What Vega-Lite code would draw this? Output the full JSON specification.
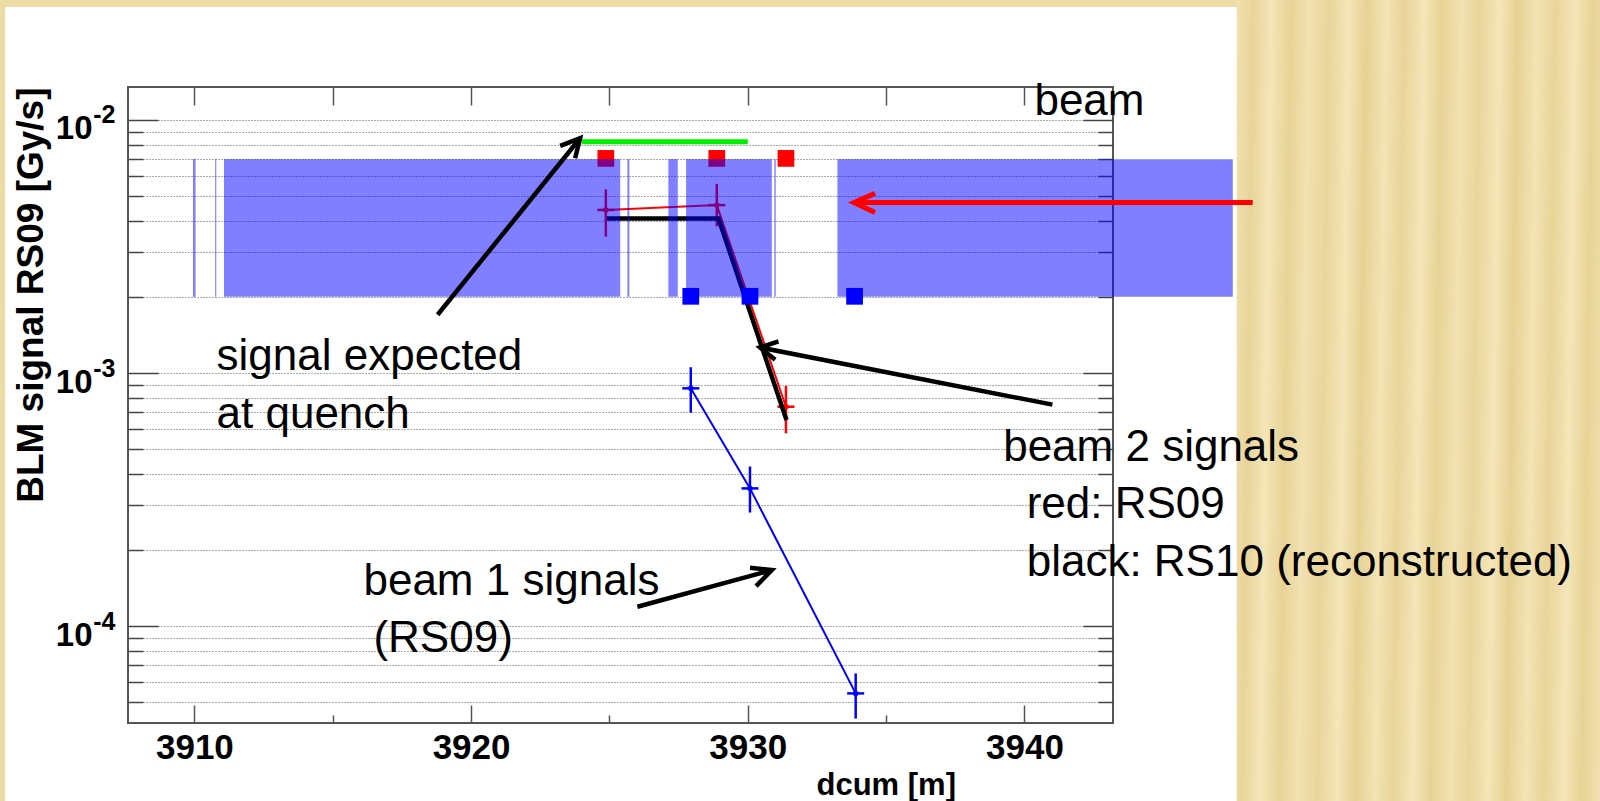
{
  "$schema": "https://vega.github.io/schema/vega-lite/v6.json",
  "width": 985,
  "height": 636,
  "autosize": {"type": "none"},
  "padding": {"left": 128, "top": 87, "right": 487, "bottom": 78},
  "background": "white",
  "config": {
    "view": {"stroke": "#555555", "strokeWidth": 2},
    "font": "Liberation Sans"
  },
  "datasets": {
    "slide": [
      {"part": "right", "x": 3947.67, "x2": 3962, "y": 0.00001, "y2": 0.2},
      {"part": "top", "x": 3895, "x2": 3962, "y": 0.02793, "y2": 0.2},
      {"part": "left", "x": 3895, "x2": 3903.16, "y": 0.00001, "y2": 0.2}
    ],
    "magnets": [
      {"x": 3909.95, "x2": 3910.04, "y": 0.002, "y2": 0.007},
      {"x": 3910.75, "x2": 3910.79, "y": 0.002, "y2": 0.007},
      {"x": 3911.07, "x2": 3925.39, "y": 0.002, "y2": 0.007},
      {"x": 3925.65, "x2": 3925.72, "y": 0.002, "y2": 0.007},
      {"x": 3927.13, "x2": 3927.47, "y": 0.002, "y2": 0.007},
      {"x": 3927.77, "x2": 3930.87, "y": 0.002, "y2": 0.007},
      {"x": 3930.96, "x2": 3931.01, "y": 0.002, "y2": 0.007},
      {"x": 3933.24, "x2": 3947.53, "y": 0.002, "y2": 0.007}
    ],
    "blm_b2": [
      {"x": 3924.87, "y": 0.00705},
      {"x": 3928.88, "y": 0.00705},
      {"x": 3931.38, "y": 0.00705}
    ],
    "blm_b1": [
      {"x": 3927.94, "y": 0.00201},
      {"x": 3930.08, "y": 0.00201},
      {"x": 3933.86, "y": 0.00201}
    ],
    "quench": [
      {"x": 3924.0, "y": 0.0082},
      {"x": 3930.0, "y": 0.0082}
    ],
    "b2_rs09": [
      {"x": 3924.87, "y": 0.00441, "lo": 0.00346, "hi": 0.00532},
      {"x": 3928.88, "y": 0.00461, "lo": 0.0038, "hi": 0.00559},
      {"x": 3931.38, "y": 0.000736, "lo": 0.000578, "hi": 0.00089}
    ],
    "b2_rs10": [
      {"x": 3924.91, "y": 0.00408},
      {"x": 3928.94, "y": 0.00408},
      {"x": 3931.40, "y": 0.000652}
    ],
    "b1_rs09": [
      {"x": 3927.94, "y": 0.00087, "lo": 0.000697, "hi": 0.001054},
      {"x": 3930.08, "y": 0.00035, "lo": 0.000281, "hi": 0.000427},
      {"x": 3933.90, "y": 0.0000542, "lo": 0.0000431, "hi": 0.000065}
    ],
    "pointers": [
      {"id": "q_shaft", "o": 0, "x": 3918.79, "y": 0.001699},
      {"id": "q_shaft", "o": 1, "x": 3923.94, "y": 0.00847},
      {"id": "q_head", "o": 0, "x": 3923.22, "y": 0.007897},
      {"id": "q_head", "o": 1, "x": 3923.94, "y": 0.00847},
      {"id": "q_head", "o": 2, "x": 3923.76, "y": 0.00706},
      {"id": "b2_shaft", "o": 0, "x": 3941.01, "y": 0.00075},
      {"id": "b2_shaft", "o": 1, "x": 3930.44, "y": 0.001262},
      {"id": "b2_head", "o": 0, "x": 3931.11, "y": 0.001334},
      {"id": "b2_head", "o": 1, "x": 3930.44, "y": 0.001262},
      {"id": "b2_head", "o": 2, "x": 3930.99, "y": 0.001128},
      {"id": "b1_shaft", "o": 0, "x": 3926.01, "y": 0.0001192},
      {"id": "b1_shaft", "o": 1, "x": 3930.87, "y": 0.0001664},
      {"id": "b1_head", "o": 0, "x": 3930.08, "y": 0.0001699},
      {"id": "b1_head", "o": 1, "x": 3930.87, "y": 0.0001664},
      {"id": "b1_head", "o": 2, "x": 3930.30, "y": 0.0001438}
    ],
    "beam_dir": [
      {"id": "shaft", "o": 0, "x": 3948.25, "y": 0.00472},
      {"id": "shaft", "o": 1, "x": 3933.84, "y": 0.00472},
      {"id": "head", "o": 0, "x": 3934.60, "y": 0.00513},
      {"id": "head", "o": 1, "x": 3933.84, "y": 0.00472},
      {"id": "head", "o": 2, "x": 3934.60, "y": 0.004305}
    ],
    "notes": [
      {"x": 3910.80, "y": 0.001031, "t": "signal expected"},
      {"x": 3910.80, "y": 0.000608, "t": "at quench"},
      {"x": 3916.11, "y": 0.0001326, "t": "beam 1 signals"},
      {"x": 3916.47, "y": 0.0000789, "t": "(RS09)"},
      {"x": 3939.23, "y": 0.000448, "t": "beam 2 signals"},
      {"x": 3940.08, "y": 0.0002676, "t": "red: RS09"},
      {"x": 3940.08, "y": 0.0001574, "t": "black: RS10 (reconstructed)"},
      {"x": 3940.36, "y": 0.010465, "t": "beam"}
    ]
  },
  "encoding": {
    "x": {"field": "x", "type": "quantitative", "scale": {"domain": [3907.6, 3943.2], "nice": false, "zero": false}, "axis": null},
    "y": {"field": "y", "type": "quantitative", "scale": {"type": "log", "domain": [0.0000414, 0.0135], "nice": false}, "axis": null}
  },
  "resolve": {"axis": {"x": "independent", "y": "independent"}},
  "layer": [
    {
      "data": {"name": "slide"},
      "transform": [{"filter": "datum.part !== 'right'"}],
      "mark": {"type": "rect", "color": "#eedca5"},
      "encoding": {"x2": {"field": "x2"}, "y2": {"field": "y2"}}
    },
    {
      "data": {"name": "slide"},
      "transform": [{"filter": "datum.part === 'right'"}],
      "mark": {
        "type": "rect",
        "fill": {
          "gradient": "linear", "x1": 0, "y1": 0, "x2": 1, "y2": 0.04,
          "stops": [
            {"offset": 0.0, "color": "#f3e4b5"},
            {"offset": 0.05, "color": "#e9d499"},
            {"offset": 0.095, "color": "#f4e6b8"},
            {"offset": 0.145, "color": "#e8d396"},
            {"offset": 0.19, "color": "#f2e2b2"},
            {"offset": 0.24, "color": "#e9d59b"},
            {"offset": 0.29, "color": "#f4e6b8"},
            {"offset": 0.335, "color": "#e7d194"},
            {"offset": 0.385, "color": "#f3e4b5"},
            {"offset": 0.43, "color": "#e9d499"},
            {"offset": 0.48, "color": "#f4e6b8"},
            {"offset": 0.525, "color": "#e8d396"},
            {"offset": 0.575, "color": "#f2e2b2"},
            {"offset": 0.62, "color": "#e9d59b"},
            {"offset": 0.67, "color": "#f4e6b8"},
            {"offset": 0.715, "color": "#e7d194"},
            {"offset": 0.765, "color": "#f3e4b5"},
            {"offset": 0.81, "color": "#e9d499"},
            {"offset": 0.86, "color": "#f4e6b8"},
            {"offset": 0.905, "color": "#e8d396"},
            {"offset": 0.955, "color": "#f2e2b2"},
            {"offset": 1.0, "color": "#e9d59b"}
          ]
        }
      },
      "encoding": {"x2": {"field": "x2"}, "y2": {"field": "y2"}}
    },
    {
      "data": {"name": "blm_b2"},
      "mark": {"type": "point", "shape": "square", "filled": true, "size": 280, "color": "#ff0000", "opacity": 1},
      "encoding": {
        "y": {"field": "y", "type": "quantitative", "scale": {"type": "log", "domain": [0.0000414, 0.0135], "nice": false},
          "axis": {"orient": "left", "values": [0.00005, 0.00006, 0.00007, 0.00008, 0.00009, 0.0001, 0.0002, 0.0003, 0.0004, 0.0005, 0.0006, 0.0007, 0.0008, 0.0009, 0.001, 0.002, 0.003, 0.004, 0.005, 0.006, 0.007, 0.008, 0.009, 0.01],
            "labels": false, "tickSize": {"condition": {"test": "abs(log(datum.value)/LN10 - round(log(datum.value)/LN10)) < 0.001", "value": -30}, "value": -15},
            "tickColor": "#444444", "tickWidth": 1.5, "grid": false, "domain": false, "title": null}}
      }
    },
    {
      "data": {"name": "quench"},
      "mark": {"type": "line", "color": "#00ee00", "strokeWidth": 5},
      "encoding": {
        "x": {"field": "x", "type": "quantitative", "scale": {"domain": [3907.6, 3943.2], "nice": false, "zero": false},
          "axis": {"orient": "top", "values": [3910, 3915, 3920, 3925, 3930, 3935, 3940], "labels": false, "tickSize": -18, "tickColor": "#555555", "tickWidth": 1.5, "grid": false, "domain": false, "title": null}},
        "y": {"field": "y", "type": "quantitative", "scale": {"type": "log", "domain": [0.0000414, 0.0135], "nice": false},
          "axis": {"orient": "right", "values": [0.00005, 0.00006, 0.00007, 0.00008, 0.00009, 0.0001, 0.0002, 0.0003, 0.0004, 0.0005, 0.0006, 0.0007, 0.0008, 0.0009, 0.001, 0.002, 0.003, 0.004, 0.005, 0.006, 0.007, 0.008, 0.009, 0.01],
            "labels": false, "tickSize": {"condition": {"test": "abs(log(datum.value)/LN10 - round(log(datum.value)/LN10)) < 0.001", "value": -30}, "value": -15},
            "tickColor": "#444444", "tickWidth": 1.5, "grid": false, "domain": false, "title": null}}
      }
    },
    {
      "data": {"name": "b2_rs09"},
      "layer": [
        {"mark": {"type": "line", "color": "#ff0000", "strokeWidth": 2}},
        {"mark": {"type": "rule", "color": "#ff0000", "strokeWidth": 2.5},
          "encoding": {"y": {"field": "lo", "type": "quantitative", "scale": {"type": "log", "domain": [0.0000414, 0.0135], "nice": false}, "axis": null}, "y2": {"field": "hi"}}},
        {"mark": {"type": "tick", "orient": "horizontal", "color": "#ff0000", "size": 17, "thickness": 2.5, "opacity": 1}},
        {"mark": {"type": "point", "shape": "circle", "filled": true, "size": 30, "color": "#ff0000", "opacity": 1}}
      ]
    },
    {
      "data": {"name": "b2_rs10"},
      "mark": {"type": "line", "color": "#000000", "strokeWidth": 4.5}
    },
    {
      "data": {"name": "b1_rs09"},
      "layer": [
        {"mark": {"type": "line", "color": "#0000ff", "strokeWidth": 2}},
        {"mark": {"type": "rule", "color": "#0000ff", "strokeWidth": 2.5},
          "encoding": {"y": {"field": "lo", "type": "quantitative", "scale": {"type": "log", "domain": [0.0000414, 0.0135], "nice": false}, "axis": null}, "y2": {"field": "hi"}}},
        {"mark": {"type": "tick", "orient": "horizontal", "color": "#0000ff", "size": 17, "thickness": 2.5, "opacity": 1}},
        {"mark": {"type": "point", "shape": "circle", "filled": true, "size": 30, "color": "#0000ff", "opacity": 1}}
      ]
    },
    {
      "data": {"name": "magnets"},
      "mark": {"type": "rect", "color": "#0000ff", "opacity": 0.5},
      "encoding": {
        "x": {"field": "x", "type": "quantitative", "scale": {"domain": [3907.6, 3943.2], "nice": false, "zero": false},
          "axis": {"orient": "bottom", "values": [3910, 3920, 3930, 3940], "format": "d",
            "ticks": false, "domain": false, "grid": false,
            "labelFont": "Liberation Sans", "labelFontWeight": "bold", "labelFontSize": 35, "labelColor": "#000000", "labelPadding": 7, "labelFlush": false,
            "title": "dcum [m]", "titleFont": "Liberation Sans", "titleFontWeight": "bold", "titleFontSize": 31, "titleColor": "#000000",
            "titleX": 688, "titleY": 71, "titleAlign": "left", "titleBaseline": "alphabetic"}},
        "x2": {"field": "x2"},
        "y": {"field": "y", "type": "quantitative", "scale": {"type": "log", "domain": [0.0000414, 0.0135], "nice": false},
          "axis": {"orient": "left", "values": [0.00005, 0.00006, 0.00007, 0.00008, 0.00009, 0.0001, 0.0002, 0.0003, 0.0004, 0.0005, 0.0006, 0.0007, 0.0008, 0.0009, 0.001, 0.002, 0.003, 0.004, 0.005, 0.006, 0.007, 0.008, 0.009, 0.01],
            "labelExpr": "abs(log(datum.value)/LN10 - round(log(datum.value)/LN10)) < 0.001 ? '10' : ''",
            "ticks": false, "domain": false,
            "grid": true, "gridDash": [1, 2], "gridColor": "#555555", "gridWidth": 1,
            "labelFont": "Liberation Sans", "labelFontWeight": "bold", "labelFontSize": 33, "labelColor": "#000000", "labelPadding": 36, "labelOffset": 9, "labelFlush": false, "labelAlign": "right", "labelBaseline": "middle",
            "title": "BLM signal RS09 [Gy/s]", "titleFont": "Liberation Sans", "titleFontWeight": "bold", "titleFontSize": 37, "titleColor": "#000000",
            "titleAnchor": "end", "titleAngle": -90, "titleX": -86, "titleY": 0, "titleAlign": "right", "titleBaseline": "alphabetic"}},
        "y2": {"field": "y2"}
      }
    },
    {
      "data": {"name": "blm_b1"},
      "mark": {"type": "point", "shape": "square", "filled": true, "size": 280, "color": "#0000ff", "opacity": 1},
      "encoding": {
        "x": {"field": "x", "type": "quantitative", "scale": {"domain": [3907.6, 3943.2], "nice": false, "zero": false},
          "axis": {"orient": "bottom", "values": [3910, 3915, 3920, 3925, 3930, 3935, 3940], "labels": false,
            "tickSize": {"condition": {"test": "datum.value % 10 === 0", "value": -18}, "value": -8},
            "tickColor": "#555555", "tickWidth": 1.5, "domain": false, "grid": false, "title": null}},
        "y": {"field": "y", "type": "quantitative", "scale": {"type": "log", "domain": [0.0000414, 0.0135], "nice": false},
          "axis": {"orient": "left", "values": [0.0001, 0.001, 0.01],
            "labelExpr": "'-' + format(-round(log(datum.value)/LN10), 'd')",
            "ticks": false, "domain": false, "grid": false,
            "labelFont": "Liberation Sans", "labelFontWeight": "bold", "labelFontSize": 25, "labelColor": "#000000", "labelPadding": 13, "labelOffset": -5, "labelFlush": false, "labelAlign": "right", "labelBaseline": "middle",
            "title": null}}
      }
    },
    {
      "data": {"name": "pointers"},
      "mark": {"type": "line", "color": "#000000", "strokeWidth": 4.5, "strokeJoin": "miter", "strokeCap": "butt"},
      "encoding": {"detail": {"field": "id"}, "order": {"field": "o"}}
    },
    {
      "data": {"name": "beam_dir"},
      "mark": {"type": "line", "color": "#ff0000", "strokeWidth": 5, "strokeJoin": "miter", "strokeCap": "butt"},
      "encoding": {"detail": {"field": "id"}, "order": {"field": "o"}}
    },
    {
      "data": {"name": "notes"},
      "mark": {"type": "text", "align": "left", "baseline": "alphabetic", "font": "Liberation Sans", "fontSize": 44, "color": "#000000"},
      "encoding": {"text": {"field": "t"}}
    }
  ]
}
